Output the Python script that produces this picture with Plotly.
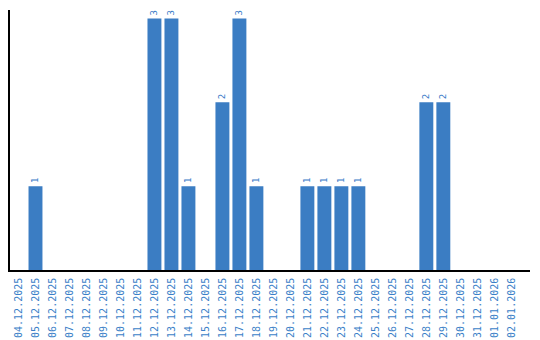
import plotly.graph_objects as go

dates = ["04.12.2025", "05.12.2025", "06.12.2025", "07.12.2025", "08.12.2025",
         "09.12.2025", "10.12.2025", "11.12.2025", "12.12.2025", "13.12.2025",
         "14.12.2025", "15.12.2025", "16.12.2025", "17.12.2025", "18.12.2025",
         "19.12.2025", "20.12.2025", "21.12.2025", "22.12.2025", "23.12.2025",
         "24.12.2025", "25.12.2025", "26.12.2025", "27.12.2025", "28.12.2025",
         "29.12.2025", "30.12.2025", "31.12.2025", "01.01.2026", "02.01.2026"]
counts = [0, 1, 0, 0, 0, 0, 0, 0, 3, 3,
          1, 0, 2, 3, 1, 0, 0, 1, 1, 1,
          1, 0, 0, 0, 2, 2, 0, 0, 0, 0]

labels = [str(v) if v > 0 else "" for v in counts]

fig = go.Figure(go.Bar(
    x=dates, y=counts, text=labels, textposition="outside", textangle=-90,
    textfont=dict(family="DejaVu Sans Mono", size=9, color="#3a7bc8"),
    marker=dict(color="#3b7dc3", line=dict(width=0)),
    cliponaxis=False,
))

fig.update_layout(
    width=540, height=340,
    margin=dict(l=10, r=10, t=10, b=70),
    paper_bgcolor="white", plot_bgcolor="white",
    bargap=0.18, showlegend=False,
    xaxis=dict(type="category", range=[-0.5, 30.1], tickangle=-90,
               tickfont=dict(family="DejaVu Sans Mono", size=10, color="#3b7fc8"),
               showline=True, linecolor="black", linewidth=1.5,
               ticks="outside", ticklen=2, tickcolor="rgba(0,0,0,0)",
               automargin=False, showgrid=False, zeroline=False),
    yaxis=dict(range=[0, 3.1], showticklabels=False, showline=True,
               linecolor="black", linewidth=1.5, ticks="", showgrid=False,
               zeroline=False, automargin=False),
)

fig.write_html("out.html")
